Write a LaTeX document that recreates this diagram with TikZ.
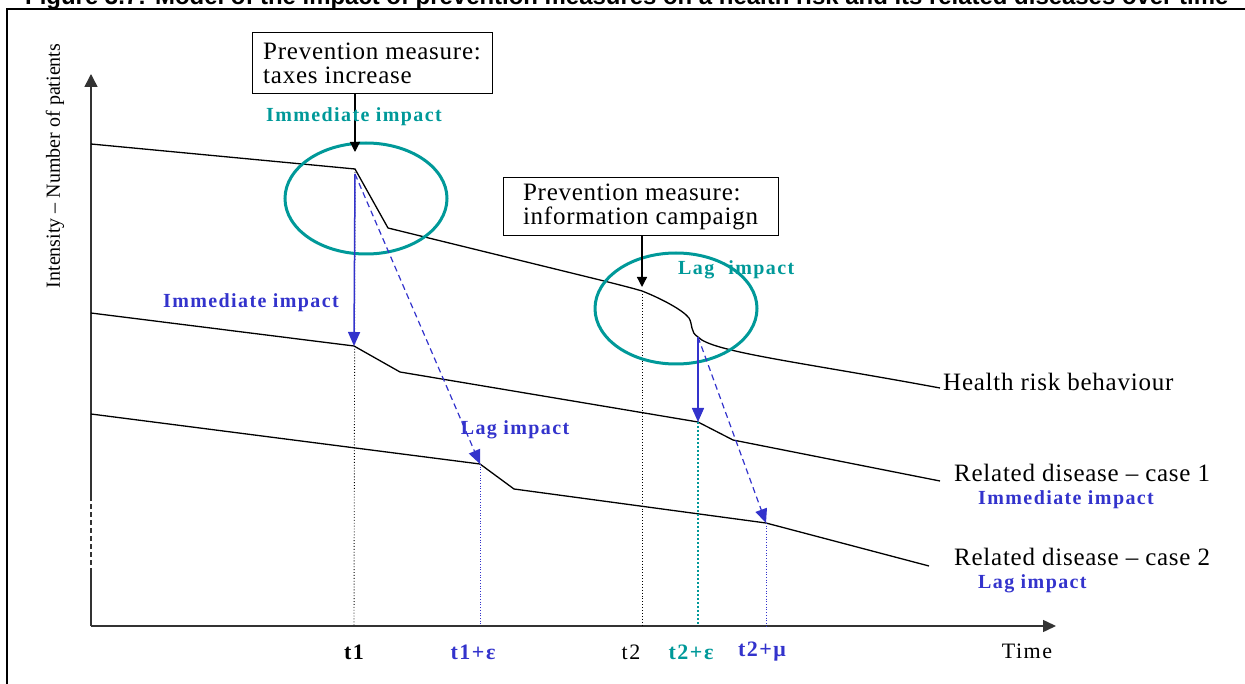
\documentclass[tikz,border=0pt]{standalone}
\usepackage{fontspec}
\usepackage{graphicx}
\setmainfont{Liberation Serif}
\newfontfamily\regfont[LetterSpace=3]{Liberation Serif}
\newfontfamily\axisfont{Liberation Serif}
\newfontfamily\lblfont[LetterSpace=7]{Liberation Serif}
\newfontfamily\titlefont{Liberation Sans}
\usetikzlibrary{arrows.meta,shapes.geometric}
\definecolor{impteal}{RGB}{0,153,153}
\definecolor{impblue}{RGB}{51,51,204}
\tikzset{
  curve/.style={line width=1.3pt},
  measbox/.style={draw, line width=1pt, align=left, inner xsep=9pt, inner ysep=5pt, font=\regfont\fontsize{25}{24}\selectfont},
  curvelbl/.style={anchor=west, inner sep=0pt, font=\regfont\fontsize{25}{24}\selectfont},
  implbl/.style={inner sep=0pt, font=\lblfont\bfseries\fontsize{20}{20}\selectfont},
  ticklbl/.style={inner sep=0pt, font=\lblfont\fontsize{22}{22}\selectfont},
  boldtick/.style={inner sep=0pt, font=\lblfont\bfseries\fontsize{22}{22}\selectfont},
  zone/.style={ellipse, draw=impteal, line width=3pt, minimum width=162pt, minimum height=111pt, inner sep=0pt},
  guide/.style={dotted, line width=0.9pt},
  impact/.style={impblue, line width=1.5pt, -{Triangle[length=14pt,width=12pt]}},
  lagimpact/.style={impblue, dash pattern=on 6pt off 4pt, line width=1.2pt, -{Triangle[length=14pt,width=12pt]}},
  measure/.style={line width=1.3pt, -{Triangle[length=10pt,width=10pt]}}
}
\begin{document}
\begin{tikzpicture}[x=1pt,y=-1pt]
\useasboundingbox (0,0) rectangle (1245,684);
% frame and title
\draw[line width=2pt] (7,684) -- (7,9) -- (1245,9);
\node[anchor=base west, inner sep=0pt] (title) at (25,5) {\resizebox{1203pt}{!}{\titlefont\bfseries Figure 3.7: Model of the impact of prevention measures on a health risk and its related diseases over time}};
% axes
\coordinate (orig) at (91,626);
\coordinate (ybrk0) at (91,573);
\coordinate (ybrk1) at (91,498);
\coordinate (ytop) at (91,74);
\coordinate (xend) at (1056,626);
\draw[line width=1.5pt, black!80] (orig) -- (ybrk0);
\draw[line width=1.5pt, black!80, dash pattern=on 5pt off 3pt] (ybrk0) -- (ybrk1);
\draw[line width=1.5pt, black!80, -{Triangle[length=13pt,width=13pt]}] (ybrk1) -- (ytop);
\draw[line width=1.5pt, black!80, -{Triangle[length=13pt,width=12pt]}] (orig) -- (xend);
\node[rotate=90, inner sep=0pt, font=\axisfont\fontsize{20}{20}\selectfont] (ylbl) at (55,166) {Intensity – Number of patients};
% health risk behaviour
\coordinate (hr0) at (91,144);
\coordinate (hr1) at (355,169);
\coordinate (hr2) at (388,228);
\coordinate (hr3) at (600,280);
\coordinate (hr4) at (642,291);
\coordinate (hr5) at (689,318);
\coordinate (hr6) at (698,337);
\coordinate (hr7) at (940,388);
\draw[curve] (hr0) -- (hr1) -- (hr2) -- (hr3) .. controls (620,285) and (632,288) .. (hr4)
  .. controls (660,298) and (683,310) .. (hr5) .. controls (693,325) and (690,332) .. (hr6)
  .. controls (712,352) and (800,362) .. (hr7);
% related disease - case 1
\coordinate (da0) at (91,313);
\coordinate (da1) at (354,346);
\coordinate (da2) at (400,372);
\coordinate (da3) at (698,422);
\coordinate (da4) at (733,440);
\coordinate (da5) at (940,481);
\draw[curve] (da0) -- (da1) -- (da2) -- (da3) -- (da4) -- (da5);
% related disease - case 2
\coordinate (db0) at (91,414);
\coordinate (db1) at (480,464);
\coordinate (db2) at (514,489);
\coordinate (db3) at (766,523);
\coordinate (db4) at (929,566);
\draw[curve] (db0) -- (db1) -- (db2) -- (db3) -- (db4);
% time marks
\coordinate (t1) at (354,626);
\coordinate (t1e) at (480,626);
\coordinate (t2) at (642,626);
\coordinate (t2e) at (698,626);
\coordinate (t2m) at (766,626);
\draw[guide] (hr1) -- (t1);
\draw[guide, impblue, line width=0.7pt] (db1) -- (t1e);
\draw[guide] (hr4) -- (t2);
\draw[guide, impteal, line width=2pt] (da3) -- (t2e);
\draw[guide, impblue, line width=0.7pt] (db3) -- (t2m);
\node[boldtick] (t1lbl) at (354,652) {t1};
\node[boldtick, impblue] (t1elbl) at (473,652) {t1+ε};
\node[ticklbl] (t2lbl) at (631,652) {t2};
\node[boldtick, impteal] (t2elbl) at (691,652) {t2+ε};
\node[boldtick, impblue] (t2mlbl) at (762,652) {t2+μ};
\node[ticklbl] (timelbl) at (1027,651) {Time};
% prevention measures
\node[measbox, minimum width=240pt, minimum height=61pt] (taxes) at (372,63.5) {Prevention measure:\\taxes increase};
\node[measbox, minimum width=275pt, minimum height=58pt] (campaign) at (640.5,207) {Prevention measure:\\information campaign};
\node[zone] (zone1) at (366,198.5) {};
\node[zone] (zone2) at (676,308.5) {};
\coordinate (hit1) at (355,152);
\coordinate (hit2) at (642,287);
\draw[measure] (taxes.south -| hit1) -- (hit1);
\draw[measure] (campaign.south -| hit2) -- (hit2);
% impacts
\coordinate (src1) at (355,174);
\coordinate (src2) at (698,337);
\draw[impact] (src1) -- (da1);
\draw[lagimpact] (src1) -- (db1);
\draw[impact] (src2) -- (da3);
\draw[lagimpact] (src2) -- (db3);
\node[implbl, impteal] (imm0) at (354,117) {Immediate impact};
\node[implbl, impteal, anchor=west] (lag0) at (678,270) {Lag\hspace{14pt}impact};
\node[implbl, impblue] (imm1) at (251,303) {Immediate impact};
\node[implbl, impblue] (lag1) at (515,430) {Lag impact};
% curve names
\node[curvelbl] (hrlbl) at (943,382) {Health risk behaviour};
\node[curvelbl] (dalbl) at (954,473) {Related disease – case 1};
\node[implbl, impblue, anchor=west] (imm2) at (978,500) {Immediate impact};
\node[curvelbl] (dblbl) at (954,557) {Related disease – case 2};
\node[implbl, impblue, anchor=west] (lag2) at (978,584) {Lag impact};
\end{tikzpicture}
\end{document}
